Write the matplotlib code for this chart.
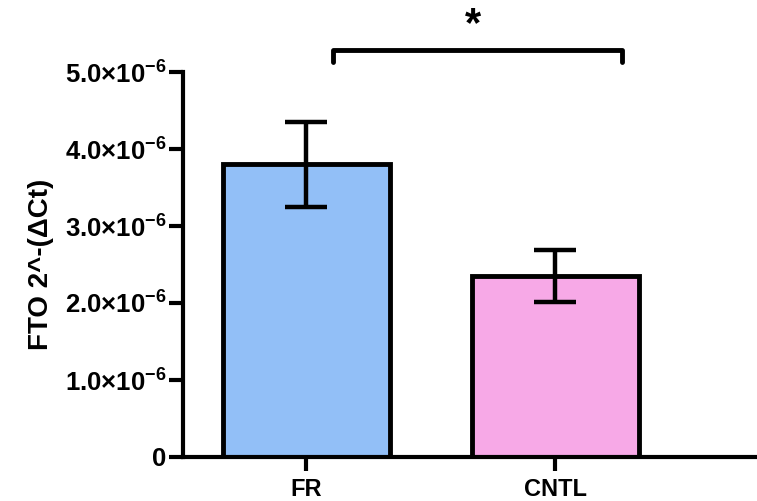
import matplotlib
matplotlib.use("Agg")
import matplotlib.pyplot as plt

# Group data: mean expression with SEM
groups = ["FR", "CNTL"]
means = [3.80e-6, 2.35e-6]
errors = [0.55e-6, 0.34e-6]
bar_colors = ["#92BFF7", "#F7A9E7"]
ytick_values = [0, 1.0e-6, 2.0e-6, 3.0e-6, 4.0e-6, 5.0e-6]
ytick_labels = ["0", "1.0", "2.0", "3.0", "4.0", "5.0"]
sig_label = "*"
sig_height = 5.29e-6

plt.rcParams["font.family"] = ["Liberation Sans", "DejaVu Sans"]
plt.rcParams["mathtext.fontset"] = "custom"
plt.rcParams["mathtext.rm"] = "Liberation Sans:bold"
plt.rcParams["mathtext.bf"] = "Liberation Sans:bold"

fig = plt.figure(figsize=(7.57, 5.01), dpi=100)
ax = fig.add_axes([183 / 757, 44 / 501, 1 - 183 / 757, (457 - 72) / 501])

x = list(range(len(groups)))
ax.bar(x, means, width=0.67, color=bar_colors, edgecolor="black",
       linewidth=3.5, zorder=2)
ax.errorbar(x, means, yerr=errors, fmt="none", ecolor="black",
            elinewidth=3.2, capsize=15, capthick=3.2, zorder=3)

ax.set_xlim(-0.494, 1.81)
ax.set_ylim(0, 5.0e-6)

ax.set_xticks(x)
ax.set_xticklabels(groups, fontsize=17, fontweight="bold")
ax.set_yticks(ytick_values)
labels = []
for v in ytick_labels:
    if v == "0":
        labels.append("0")
    else:
        labels.append(r"$\mathrm{" + v + r"}{\times}\mathrm{10^{-6}}$")
ax.set_yticklabels(labels, fontsize=18.5, fontweight="bold")

ax.set_ylabel("FTO 2^-(\u0394Ct)", fontsize=20, fontweight="bold", labelpad=8)

for side in ["top", "right"]:
    ax.spines[side].set_visible(False)
for side in ["left", "bottom"]:
    ax.spines[side].set_linewidth(3.0)
ax.tick_params(axis="both", width=3.0, length=10, color="black")
ax.tick_params(axis="x", pad=5)
ax.tick_params(axis="y", pad=2)

# Significance bracket between the two groups
drop = 0.16e-6
left_end, right_end = x[0] + 0.11, x[1] + 0.27
ax.plot([left_end, left_end, right_end, right_end],
        [sig_height - drop, sig_height, sig_height, sig_height - drop],
        color="black", linewidth=3.5, solid_capstyle="round",
        solid_joinstyle="round", clip_on=False)
ax.text((left_end + right_end) / 2 - 0.02, sig_height + 0.06e-6, sig_label,
        ha="center", va="bottom", fontsize=30, fontweight="bold")

fig.savefig("out.png", dpi=100)
